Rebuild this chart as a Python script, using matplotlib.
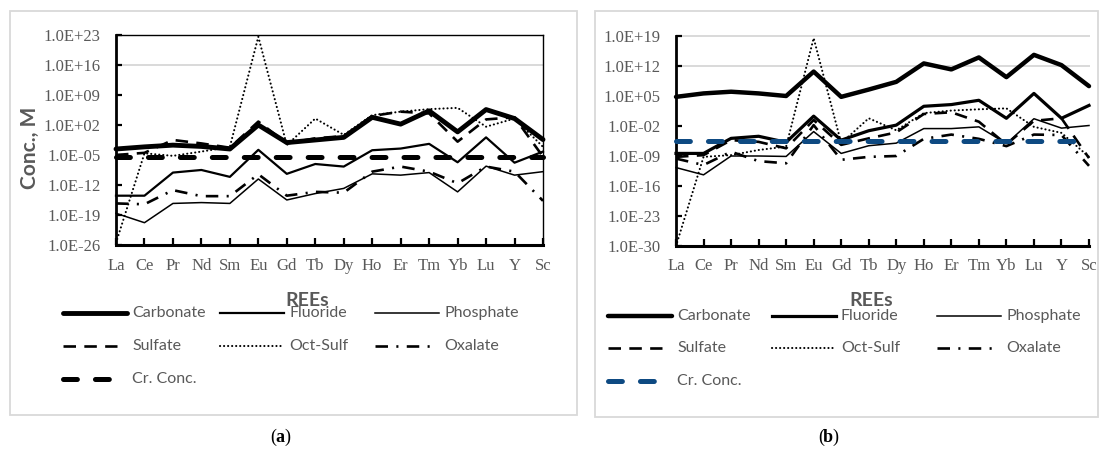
import math
import matplotlib
matplotlib.use("Agg")
import matplotlib.pyplot as plt
import matplotlib.ticker as mticker
from matplotlib.lines import Line2D
from matplotlib.patches import Rectangle

plt.rcParams['lines.scale_dashes'] = False

# ---------------- data ----------------
rees = ["La", "Ce", "Pr", "Nd", "Sm", "Eu", "Gd", "Tb", "Dy", "Ho", "Er", "Tm", "Yb", "Lu", "Y", "Sc"]

# panel (a)
carbonate_a = [2.5e-4, 7.9e-4, 2.0e-3, 1.0e-3, 2.5e-4, 1.0e2, 7.9e-3, 3.2e-2, 1.3e-1, 6.3e3, 1.6e2, 2.0e5, 2.5e0, 4.0e5, 3.2e3, 4.0e-2]
fluoride_a = [3.2e-15, 3.2e-15, 7.9e-10, 3.2e-9, 7.9e-11, 1.6e-4, 4.0e-10, 7.9e-8, 2.0e-8, 1.3e-4, 3.2e-4, 4.0e-3, 2.0e-7, 1.3e-1, 1.6e-7, 6.3e-5]
phosphate_a = [2.5e-19, 1.6e-21, 5.0e-17, 7.9e-17, 5.0e-17, 2.5e-11, 3.2e-16, 1.0e-14, 1.6e-13, 4.0e-10, 2.0e-10, 7.9e-10, 2.5e-14, 2.5e-8, 2.0e-10, 1.3e-9]
sulfate_a = [1.0e-5, 3.2e-5, 3.2e-2, 5.0e-3, 5.0e-4, 6.3e2, 5.0e-3, 7.9e-2, 2.5e-1, 1.3e4, 1.3e5, 5.0e4, 1.3e-2, 2.0e3, 6.3e3, 4.0e-6]
octsulf_a = [3.2e-26, 2.5e-5, 6.3e-6, 6.3e-5, 7.9e-4, 4.0e22, 2.0e-3, 3.2e3, 5.0e-1, 2.0e4, 1.3e5, 5.0e5, 1.0e6, 4.0e1, 3.2e3, 7.9e-4]
oxalate_a = [5.0e-17, 3.2e-17, 6.3e-14, 2.5e-15, 2.5e-15, 3.2e-10, 3.2e-15, 2.5e-14, 1.6e-14, 1.3e-9, 2.0e-8, 1.3e-9, 2.5e-12, 2.0e-8, 1.3e-9, 2.0e-16]
crconc_a = 4.0e-6

# panel (b)
carbonate_b = [6.3e4, 4.0e5, 1.0e6, 4.0e5, 1.0e5, 5.0e10, 6.3e4, 3.2e6, 2.0e8, 4.0e12, 1.6e11, 1.0e14, 2.5e9, 4.0e14, 1.6e12, 2.0e7]
fluoride_b = [4.0e-9, 4.0e-9, 1.3e-5, 4.0e-5, 1.6e-6, 2.0e0, 5.0e-6, 7.9e-4, 1.6e-2, 4.0e2, 1.0e3, 1.0e4, 6.3e-1, 4.0e5, 6.3e-1, 6.3e2]
phosphate_b = [2.0e-12, 4.0e-14, 1.0e-9, 1.0e-9, 7.9e-10, 5.0e-4, 4.0e-9, 2.5e-7, 1.0e-6, 2.5e-3, 2.5e-3, 6.3e-3, 7.9e-7, 5.0e-1, 3.2e-3, 1.3e-2]
sulfate_b = [6.3e-10, 1.6e-9, 5.0e-6, 2.0e-6, 6.3e-8, 2.5e-1, 4.0e-7, 1.3e-5, 3.2e-4, 6.3e0, 1.6e1, 1.0e-1, 5.0e-7, 1.6e-1, 6.3e-1, 3.2e-10]
octsulf_b = [1.0e-30, 6.3e-10, 1.6e-9, 2.5e-8, 1.6e-7, 3.2e18, 1.0e-6, 6.3e-1, 1.0e-3, 1.0e1, 4.0e1, 7.9e1, 1.3e2, 6.3e-3, 2.5e-4, 6.3e-10]
oxalate_b = [2.5e-10, 7.9e-12, 1.0e-8, 6.3e-11, 2.0e-11, 1.6e-2, 1.3e-10, 6.3e-10, 1.0e-9, 1.0e-5, 1.0e-4, 1.0e-5, 2.0e-7, 1.0e-4, 7.9e-5, 5.0e-12]
crconc_b = 3.2e-6

yticks_a = [1e-26, 1e-19, 1e-12, 1e-5, 1e2, 1e9, 1e16, 1e23]
yticks_b = [1e-30, 1e-23, 1e-16, 1e-9, 1e-2, 1e5, 1e12, 1e19]
grid_a = [1e16]
grid_b = [1e12, 1e19]

series_names = ["Carbonate", "Fluoride", "Phosphate", "Sulfate", "Oct-Sulf", "Oxalate", "Cr. Conc."]

# ---------------- styling ----------------
W, H = 1100, 450
GRAY = "#595959"
SANS = ["Lato", "DejaVu Sans"]
SERIF = ["Liberation Serif", "DejaVu Serif"]

def fx(px):
    return px / W

def fy(py):
    return 1 - py / H

def styles(cr_color, carb_lw, fl_lw):
    return {
        "Carbonate": dict(color="black", lw=carb_lw, ls="-", solid_capstyle="round", solid_joinstyle="round"),
        "Fluoride": dict(color="black", lw=fl_lw, ls="-", solid_joinstyle="round"),
        "Phosphate": dict(color="black", lw=1.1, ls="-"),
        "Sulfate": dict(color="black", lw=1.9, ls=(0, (9, 6))),
        "Oct-Sulf": dict(color="black", lw=1.5, ls=(0, (0.1, 2.8)), dash_capstyle="round"),
        "Oxalate": dict(color="black", lw=1.9, ls=(0, (9, 6, 1.5, 6))),
        "Cr. Conc.": dict(color=cr_color, lw=3.6, ls=(0, (10, 13)), dash_capstyle="round"),
    }

handle_len = {"Carbonate": 64, "Fluoride": 64, "Phosphate": 64, "Sulfate": 54,
              "Oct-Sulf": 64, "Oxalate": 56, "Cr. Conc.": 54}

fig = plt.figure(figsize=(11, 4.5), dpi=100)
fig.patch.set_facecolor("white")

# panel frames
for (x0, y0, x1, y1) in [(10, 11, 577, 415), (595, 11, 1098, 417)]:
    fig.patches.append(Rectangle((fx(x0), fy(y1)), (x1 - x0) / W, (y1 - y0) / H,
                                 transform=fig.transFigure, fill=False,
                                 ec="#D9D9D9", lw=1.3, zorder=0))

panels = [
    dict(rect=[fx(116), fy(245), 427 / W, 210 / H],
         data=[carbonate_a, fluoride_a, phosphate_a, sulfate_a, octsulf_a, oxalate_a],
         cr=crconc_a, yt=yticks_a, grid=grid_a, st=styles("black", 3.5, 1.6), box=True,
         leg_cols=[63, 220, 375], leg_rows=[313, 346, 379], xlab=(307, 300), cap=(280, 437, "a")),
    dict(rect=[fx(676), fy(246), 413 / W, 210 / H],
         data=[carbonate_b, fluoride_b, phosphate_b, sulfate_b, octsulf_b, oxalate_b],
         cr=crconc_b, yt=yticks_b, grid=grid_b, st=styles("#0E4A82", 3.2, 2.3), box=False,
         leg_cols=[608, 772, 937], leg_rows=[316, 348, 381], xlab=(871, 301), cap=(828, 437, "b")),
]

x = list(range(len(rees)))

for p in panels:
    ax = fig.add_axes(p["rect"])
    ax.set_yscale("log")
    ax.set_xlim(0, len(rees) - 1)
    ax.set_ylim(p["yt"][0], p["yt"][-1])

    for g in p["grid"]:
        ax.axhline(g, color="#D9D9D9", lw=1.4, zorder=0.5, clip_on=False)

    for name, vals in zip(series_names[:6], p["data"]):
        ax.plot(x, vals, clip_on=False, zorder=2, **p["st"][name])
    ax.plot(x, [p["cr"]] * len(rees), clip_on=False, zorder=3, **p["st"]["Cr. Conc."])

    ax.set_yticks(p["yt"])
    ax.yaxis.set_minor_locator(mticker.NullLocator())
    ax.set_yticklabels([f"1.0E{int(round(math.log10(v))):+03d}" for v in p["yt"]])
    ax.set_xticks(x)
    ax.set_xticklabels(rees)
    for lab in ax.get_xticklabels() + ax.get_yticklabels():
        lab.set_family(SERIF)
        lab.set_fontsize(12)
        lab.set_color(GRAY)
    ax.tick_params(axis="y", direction="in", length=4, width=1.6, pad=11, colors="black", labelcolor=GRAY)
    ax.tick_params(axis="x", direction="in", length=5, width=1.6, pad=9, colors="black", labelcolor=GRAY)

    ax.spines["left"].set_linewidth(2.0)
    ax.spines["bottom"].set_linewidth(2.2)
    if p["box"]:
        ax.spines["top"].set_linewidth(1.0)
        ax.spines["right"].set_linewidth(1.0)
    else:
        ax.spines["top"].set_visible(False)
        ax.spines["right"].set_visible(False)
    ax.set_facecolor("none")

    # x axis title
    fig.text(fx(p["xlab"][0]), fy(p["xlab"][1]), "REEs", family=SANS, weight="bold",
             fontsize=14, color=GRAY, ha="center", va="center")
    # caption: "(" regular, letter bold, ")" regular
    cx, cy, letter = p["cap"]
    fig.text(fx(cx - 4), fy(cy), "(", family=SERIF, fontsize=13, color="black", ha="right", va="center")
    fig.text(fx(cx), fy(cy), letter, family=SERIF, weight="bold", fontsize=13, color="black",
             ha="center", va="center")
    fig.text(fx(cx + 4), fy(cy), ")", family=SERIF, fontsize=13, color="black", ha="left", va="center")

    # legend (Excel-like 3-column grid, row-major)
    for i, name in enumerate(series_names):
        r, c = divmod(i, 3)
        x0 = p["leg_cols"][c]
        yy = p["leg_rows"][r]
        ln = Line2D([fx(x0), fx(x0 + handle_len[name])], [fy(yy), fy(yy)],
                    transform=fig.transFigure, **p["st"][name])
        fig.lines.append(ln)
        fig.text(fx(x0 + 69), fy(yy), name, family=SANS, fontsize=11.5, color=GRAY,
                 ha="left", va="center")

# y-axis title (panel a only)
fig.text(fx(30), fy(148), "Conc., M", family=SANS, weight="bold", fontsize=15,
         color=GRAY, rotation=90, ha="center", va="center")

fig.savefig("out.png", dpi=100, facecolor="white")
